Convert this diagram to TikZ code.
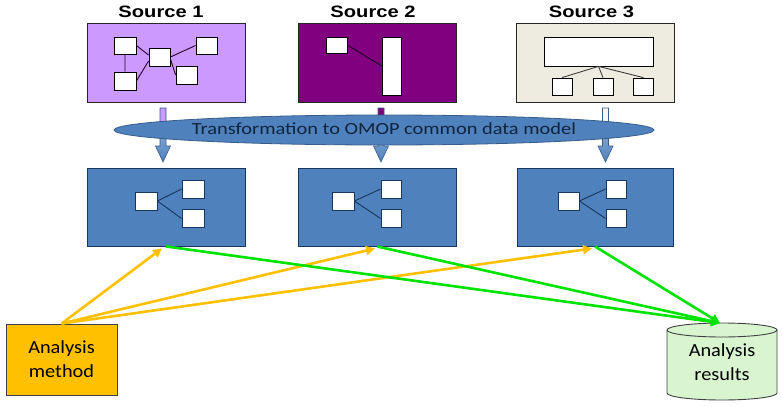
\documentclass[tikz,border=0pt]{standalone}
\usepackage{fontspec}
\usepackage{graphicx}
\setmainfont{Carlito}
\newfontfamily\headfont{Liberation Sans}
\usetikzlibrary{arrows.meta,shapes.geometric}
\definecolor{srcA}{HTML}{CC99FF}
\definecolor{srcB}{HTML}{800080}
\definecolor{srcC}{HTML}{EEECE1}
\definecolor{cdm}{HTML}{4F81BD}
\definecolor{cdmedge}{HTML}{385D8A}
\definecolor{cdmdark}{HTML}{17375E}
\definecolor{navytext}{HTML}{0F243E}
\definecolor{amber}{HTML}{FFC000}
\definecolor{mint}{HTML}{D8F5D0}
\definecolor{lime}{RGB}{0,226,0}
\newcommand{\hstretch}[2]{\scalebox{#1}[1]{#2}}
\newcommand{\arrowpoly}[1]{({#1-3},108) -- ({#1+3},108) -- ({#1+3},146) -- ({#1+7.5},146) -- (#1,162)
    -- ({#1-7.5},146) -- ({#1-3},146) -- cycle}
\newcommand{\flowdown}[2]{%
  \path[top color=cdm!45!white, bottom color=cdm] \arrowpoly{#1};
  \begin{scope}
    \clip ({#1-10},100) rectangle ({#1+10},128);
    \path[fill=#2] \arrowpoly{#1};
  \end{scope}
  \path[draw=cdmedge, line width=0.6pt] \arrowpoly{#1};}
\begin{document}
\begin{tikzpicture}[x=1pt,y=-1pt,
  srcbox/.style={draw=black!85, line width=0.8pt, minimum width=158pt, minimum height=79pt, inner sep=0pt},
  wbox/.style={draw=black, fill=white, line width=0.8pt, inner sep=0pt, minimum width=22pt, minimum height=17pt},
  cdmbox/.style={draw=cdmdark, fill=cdm, line width=0.9pt, minimum width=158pt, minimum height=78pt, inner sep=0pt},
  cbox/.style={draw=cdmdark, fill=white, line width=0.9pt, inner sep=0pt, minimum width=21pt, minimum height=18pt},
  title/.style={font={\headfont\bfseries\fontsize{16.5}{18}\selectfont}, anchor=base, inner sep=0pt},
  link/.style={line width=0.9pt},
  clink/.style={draw=cdmdark, line width=0.9pt},
  useline/.style={draw=amber, line width=2.6pt, -{Triangle[length=9pt,width=9pt]}},
  resline/.style={draw=lime, line width=2.6pt, -{Triangle[length=9pt,width=9pt]}},
  labeltext/.style={font={\fontsize{18.5}{24}\selectfont}, align=center, text=black}
]
\useasboundingbox (0,0) rectangle (782,407);

% titles
\node[title] (t1) at (161,17) {\hstretch{1.22}{Source 1}};
\node[title] (t2) at (373,17) {\hstretch{1.22}{Source 2}};
\node[title] (t3) at (591.5,17) {\hstretch{1.22}{Source 3}};

% source boxes
\node[srcbox, fill=srcA] (s1) at (166,62.5) {};
\node[srcbox, fill=srcB] (s2) at (377.5,62.5) {};
\node[srcbox, fill=srcC] (s3) at (595,62.5) {};

% source 1 contents
\node[wbox] (p1) at (125,45.5) {};
\node[wbox, minimum height=18pt] (p2) at (125,81) {};
\node[wbox, minimum width=21pt, minimum height=18pt] (p3) at (159.5,57) {};
\node[wbox, minimum width=21pt] (p4) at (206.5,45.5) {};
\node[wbox, minimum width=21pt, minimum height=18pt] (p5) at (186.5,75) {};
\draw[link, draw=black!70!srcB] (p1.south) -- (p2.north) (p1.east) -- (p3.170) (p2.east) -- (p3.200)
  (p3.east) -- (p4.west) (p3.-10) -- (p5.west);

% source 2 contents
\node[wbox, minimum width=21pt, minimum height=16pt] (q1) at (336.5,45) {};
\node[wbox, minimum width=19pt, minimum height=58pt] (q2) at (391.5,66) {};
\draw[link, draw=black!80!srcB] (q1.east) -- (q2.west);

% source 3 contents
\node[wbox, minimum width=109pt, minimum height=29pt] (r0) at (598.5,51.5) {};
\node[wbox, minimum width=20pt] (r1) at (562,86.5) {};
\node[wbox, minimum width=20pt] (r2) at (603,86.5) {};
\node[wbox, minimum width=20pt] (r3) at (643.5,86.5) {};
\draw[link, draw=black!75] (r0.south) -- (r1.north) (r0.south) -- (r2.north) (r0.south) -- (r3.north);

% CDM boxes
\node[cdmbox] (c1) at (166,207) {};
\node[cbox, minimum width=22pt] (c1l) at (146,201) {};
\node[cbox, minimum width=22pt] (c1t) at (193,189) {};
\node[cbox, minimum width=22pt] (c1b) at (193,218.5) {};
\draw[clink] (c1l.east) -- (c1t.west) (c1l.east) -- (c1b.west);

\node[cdmbox] (c2) at (377,207) {};
\node[cbox, minimum width=22pt] (c2l) at (343,201) {};
\node[cbox, minimum width=20pt] (c2t) at (391,189) {};
\node[cbox, minimum width=20pt] (c2b) at (391,218.5) {};
\draw[clink] (c2l.east) -- (c2t.west) (c2l.east) -- (c2b.west);

\node[cdmbox, minimum width=156pt] (c3) at (595,207) {};
\node[cbox] (c3l) at (568.5,201) {};
\node[cbox, minimum width=20pt] (c3t) at (616,189) {};
\node[cbox, minimum width=20pt] (c3b) at (616,218.5) {};
\draw[clink] (c3l.east) -- (c3t.west) (c3l.east) -- (c3b.west);

% transformation arrows
\flowdown{163}{srcA}
\flowdown{381}{srcB}
\flowdown{605.5}{srcC!50!white}

% transformation ellipse
\node[ellipse, draw=cdmedge, fill=cdm, line width=0.8pt, minimum width=540pt, minimum height=30pt, inner sep=0pt] (tr) at (384,130) {};
\node[font={\fontsize{17}{20}\selectfont}, text=navytext, anchor=base, inner sep=0pt] (trt) at (384,134)
  {\hstretch{1.2}{Transformation to OMOP common data model}};

% analysis method
\node[draw=black!75, fill=amber, line width=0.9pt, minimum width=111pt, minimum height=71pt, inner sep=0pt, labeltext] (m) at (61.5,359.5)
  {\hstretch{1.1}{Analysis}\\\hstretch{1.1}{method}};

% analysis results cylinder
\path[fill=mint, draw=black!75, line width=0.9pt] (667,330) -- (667,393)
  arc[start angle=180, end angle=0, x radius=55, y radius=7] -- (777,330);
\draw[fill=mint, draw=black!75, line width=0.9pt] (722,330) ellipse [x radius=55, y radius=7];
\node[labeltext, inner sep=0pt] (res) at (722,362) {\hstretch{1.1}{Analysis}\\\hstretch{1.1}{results}};
\coordinate (rtop) at (720,323);

% connectors
\draw[useline] (m.north) -- ([xshift=-4pt,yshift=-2pt]c1.south);
\draw[useline] (m.north) -- ([xshift=-2pt,yshift=-2pt]c2.south);
\draw[useline] (m.north) -- ([xshift=-3pt,yshift=-2pt]c3.south);
\draw[resline] (c1.south) -- (rtop);
\draw[resline] (c2.south) -- (rtop);
\draw[resline] (c3.south) -- (rtop);
\end{tikzpicture}
\end{document}
